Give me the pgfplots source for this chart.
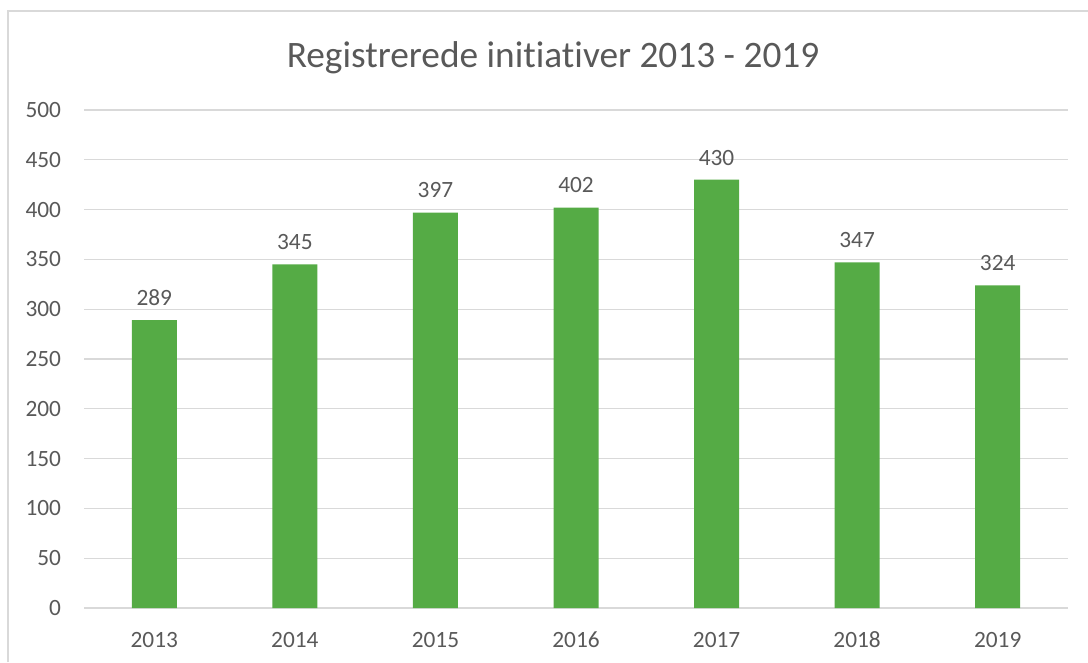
\documentclass[border=0pt]{standalone}
\usepackage{pgfplots}
\pgfplotsset{compat=1.18}
\usepackage{fontspec}
\setmainfont[Ligatures={NoCommon,NoRequired,NoContextual}]{Carlito}
\definecolor{bargreen}{HTML}{55AB45}
\definecolor{txt}{HTML}{595959}
\definecolor{gridc}{HTML}{D9D9D9}
\begin{document}
\begin{tikzpicture}
\path[use as bounding box] (0pt,0pt) rectangle (816pt,496.5pt);
\draw[gridc, line width=1pt] (6pt,0pt) -- (6pt,488.25pt) -- (816pt,488.25pt);
\node[txt, font=\fontsize{28}{32}\selectfont, anchor=base] at (414.75pt,445.5pt) {Registrerede initiativer 2013 - 2019};
\begin{axis}[
  at={(63pt,40.5pt)}, anchor=south west,
  scale only axis, width=738pt, height=373.5pt,
  /pgf/number format/assume math mode=true,
  ymin=0, ymax=500, ytick={0,50,...,500},
  xmin=-0.5, xmax=6.5, xtick={0,...,6},
  xticklabels={2013,2014,2015,2016,2017,2018,2019},
  ymajorgrids, grid style={gridc, line width=0.8pt},
  axis line style={draw=none}, tick style={draw=none},
  yticklabel style={txt, font=\fontsize{17.5}{20}\selectfont, inner sep=0pt, anchor=east, xshift=-17pt},
  xticklabel style={txt, font=\fontsize{17.5}{20}\selectfont, inner sep=0pt, anchor=base, yshift=-25.5pt},
  ybar, bar width=33.75pt,
  nodes near coords,
  nodes near coords style={txt, font=\fontsize{17.5}{20}\selectfont, inner sep=0pt, anchor=base, yshift=11pt},
  clip=false,
]
\addplot[fill=bargreen, draw=none] coordinates {(0,289) (1,345) (2,397) (3,402) (4,430) (5,347) (6,324)};
\end{axis}
\end{tikzpicture}
\end{document}
